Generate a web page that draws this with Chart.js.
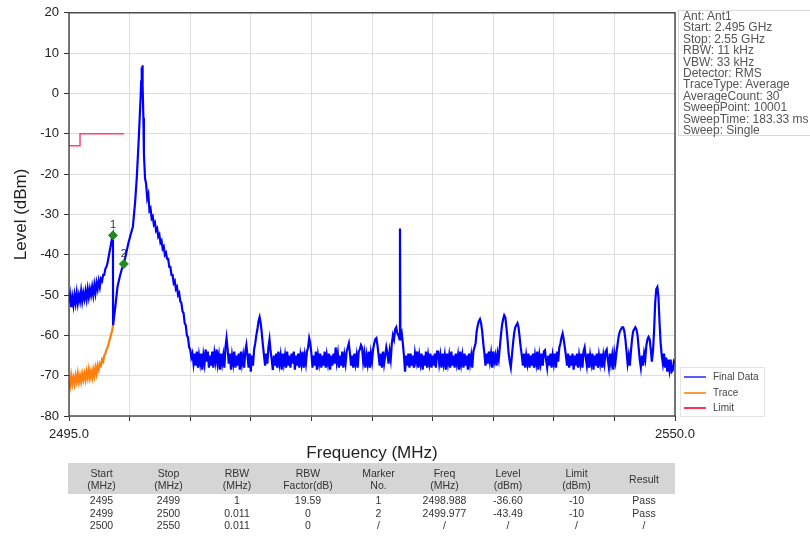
<!DOCTYPE html>
<html lang="en">
<head>
<meta charset="UTF-8">
<title>Spectrum 2495 - 2550 MHz</title>
<script src="https://cdn.jsdelivr.net/npm/chart.js"></script>
<style>
  body { margin: 0; background: #fff; font-family: "Liberation Sans", Arial, sans-serif; }
  #wrap { position: relative; width: 810px; height: 539px; overflow: hidden; }
  #chartBox { position: absolute; left: 0; top: 0; width: 810px; height: 470px; }
  #info {
    position: absolute; left: 678px; top: 10px; width: 140px; height: 126px;
    border: 1px solid #d9d9d9; font-size: 12px; line-height: 11.4px; color: #555;
    padding-left: 4px; white-space: nowrap; box-sizing: border-box;
  }
  #legend {
    position: absolute; left: 680px; top: 367px; width: 85px; height: 50px;
    border: 1px solid #e4e4e4; box-sizing: border-box; font-size: 10px; color: #444;
  }
  #legend div { position: absolute; left: 32px; height: 12px; line-height: 12px; }
  #legend span { position: absolute; left: -29px; top: 5px; width: 22px; height: 0; border-top: 2px solid; }
  #results {
    position: absolute; left: 68px; top: 463px; width: 607px;
    border-collapse: collapse; table-layout: fixed; font-size: 10.5px; color: #333;
  }
  #results th { background: #d5d5d5; font-weight: normal; height: 31px; line-height: 12px; padding: 0; }
  #results td { height: 12.5px; line-height: 12.5px; padding: 0; text-align: center; }
</style>
</head>
<body>
<div id="wrap">
  <div id="chartBox"><canvas id="spectrum"></canvas></div>
  <div id="info"></div>
  <div id="legend"></div>
  <table id="results"></table>
</div>

<script>
  // Final Data trace (MHz, dBm)
  const finalData = [
    // 1 MHz RBW segment
    [2495.0,-52],[2495.1,-50],[2495.2,-53],[2495.3,-50.5],[2495.4,-52.5],[2495.5,-50],[2495.6,-52],[2495.7,-49.5],
    [2495.8,-52],[2495.9,-50],[2496.0,-51.5],[2496.1,-49],[2496.2,-51.5],[2496.3,-49.5],[2496.4,-51],[2496.5,-49],
    [2496.6,-51],[2496.7,-48.5],[2496.8,-50.5],[2496.9,-48.5],[2497.0,-50],[2497.1,-48],[2497.2,-50],[2497.3,-47.5],
    [2497.4,-49.5],[2497.5,-47],[2497.6,-48.5],[2497.7,-46.5],[2497.8,-48],[2497.9,-46],[2498.0,-46.5],[2498.1,-45],
    [2498.2,-45],[2498.3,-43.5],[2498.4,-43],[2498.5,-42],[2498.6,-40.5],[2498.7,-39],[2498.8,-37.5],[2498.9,-36],
    [2498.99,-35.2],[2499.0,-57.5],
    // carrier
    [2499.2,-53],[2499.4,-48],[2499.6,-45.5],[2499.8,-43.5],[2499.98,-42.3],[2500.2,-39.5],[2500.4,-37],[2500.6,-35],
    [2500.8,-33],[2501.0,-27],[2501.15,-21],[2501.3,-13],[2501.4,-7],[2501.5,-1],[2501.55,3],[2501.6,6.5],
    [2501.63,5],[2501.66,7],[2501.7,2],[2501.75,-6],[2501.8,-15],[2501.9,-21],[2502.0,-22.5],[2502.1,-26],
    [2502.2,-25],[2502.3,-29],[2502.4,-28.5],[2502.5,-31],[2502.6,-30.5],[2502.7,-32.5],[2502.8,-32],[2502.9,-34],
    [2503.0,-33.5],[2503.1,-35.5],[2503.2,-35],[2503.3,-37],[2503.4,-36.5],[2503.5,-38.5],[2503.6,-38],[2503.7,-40],
    [2503.8,-39.5],[2503.9,-41],[2504.0,-41],[2504.1,-43],[2504.2,-43],[2504.3,-45],[2504.4,-45],[2504.5,-47],
    [2504.6,-46.5],[2504.7,-48.5],[2504.8,-48],[2504.9,-50],[2505.0,-49.5],[2505.1,-51.5],[2505.2,-52],[2505.3,-54],
    [2505.4,-54.5],[2505.5,-57],[2505.6,-57.5],[2505.7,-60],[2505.8,-60.5],[2505.9,-63],[2506.0,-63.5],[2506.1,-65.5],
    [2506.2,-64.5],[2506.3,-67],
    // noise floor with spurs
    [2506.4,-64.5],[2506.5,-67.5],[2506.6,-64],[2506.7,-68],[2506.8,-65],[2506.9,-67],
    [2507.0,-64.5],[2507.1,-68.5],[2507.2,-65],[2507.3,-67],[2507.4,-63.5],[2507.5,-66.5],[2507.6,-64],[2507.7,-68],[2507.8,-65],[2507.9,-67.5],
    [2508.0,-64],[2508.1,-68],[2508.2,-64.5],[2508.3,-66.5],[2508.4,-63.5],[2508.5,-67],[2508.6,-65],[2508.7,-68.5],[2508.8,-64.5],[2508.9,-67],
    [2509.0,-65],[2509.1,-68],[2509.2,-63],[2509.3,-60.7],[2509.4,-63.5],[2509.5,-67],[2509.6,-64.5],[2509.7,-68.5],[2509.8,-65],[2509.9,-67],
    [2510.0,-64],[2510.1,-68],[2510.2,-65],[2510.3,-67.5],[2510.4,-64.5],[2510.5,-68.5],[2510.6,-64],[2510.7,-67],[2510.8,-65],[2510.9,-68],
    [2511.0,-64],[2511.1,-62.4],[2511.2,-65],[2511.3,-68],[2511.4,-64.5],[2511.5,-69],[2511.6,-65],[2511.7,-67.5],[2511.8,-63.5],[2511.9,-62],
    [2512.0,-60],[2512.1,-58.5],[2512.2,-56.5],[2512.3,-55.5],[2512.4,-57],[2512.5,-59.5],[2512.6,-62.5],[2512.7,-65],[2512.8,-67.5],[2512.9,-64.5],
    [2513.0,-67],[2513.1,-63],[2513.2,-61],[2513.3,-64],[2513.4,-66],[2513.5,-68.6],[2513.6,-65],[2513.7,-67.5],[2513.8,-64.5],[2513.9,-68],
    [2514.0,-64],[2514.1,-67],[2514.2,-65],[2514.3,-68.5],[2514.4,-64.5],[2514.5,-67],[2514.6,-65],[2514.7,-68],[2514.8,-64],[2514.9,-67.5],
    [2515.0,-65],[2515.1,-68],[2515.2,-64.5],[2515.3,-67],[2515.4,-64],[2515.5,-68.5],[2515.6,-65],[2515.7,-67.5],[2515.8,-64.5],[2515.9,-68],
    [2516.0,-65],[2516.1,-67],[2516.2,-64],[2516.3,-68],[2516.4,-65],[2516.5,-67],[2516.6,-64],[2516.7,-63],[2516.8,-60.7],[2516.9,-62],
    [2517.0,-64.5],[2517.1,-68],[2517.2,-65],[2517.3,-67.5],[2517.4,-64],[2517.5,-68.5],[2517.6,-65],[2517.7,-67],[2517.8,-64.5],[2517.9,-68],
    [2518.0,-65],[2518.1,-67.5],[2518.2,-64],[2518.3,-68],[2518.4,-65],[2518.5,-67],[2518.6,-64.5],[2518.7,-68.5],[2518.8,-65],[2518.9,-67.5],
    [2519.0,-64.5],[2519.1,-67],[2519.2,-63],[2519.3,-66.5],[2519.4,-64.5],[2519.5,-68],[2519.6,-65],[2519.7,-67.5],[2519.8,-64],[2519.9,-68],
    [2520.0,-65],[2520.1,-67],[2520.2,-64],[2520.3,-63],[2520.4,-62],[2520.5,-64.5],[2520.6,-67.5],[2520.7,-65],[2520.8,-68],[2520.9,-64.5],
    [2521.0,-67],[2521.1,-65],[2521.2,-68],[2521.3,-64],[2521.4,-63.5],[2521.5,-62.4],[2521.6,-63],[2521.7,-66.5],[2521.8,-64.5],[2521.9,-68],
    [2522.0,-65],[2522.1,-67],[2522.2,-64],[2522.3,-68],[2522.4,-64.5],[2522.5,-66.5],[2522.6,-63.5],[2522.7,-62],[2522.8,-61],[2522.9,-60.7],
    [2523.0,-62.5],[2523.1,-65],[2523.2,-67.5],[2523.3,-64.5],[2523.4,-68],[2523.5,-64],[2523.6,-67],[2523.7,-65],[2523.8,-63],[2523.9,-64.5],
    [2524.0,-67],[2524.1,-64],[2524.2,-66],[2524.3,-62],[2524.4,-60],[2524.5,-61],[2524.6,-58.5],[2524.7,-58],[2524.8,-59.5],[2524.9,-60],
    [2525.0,-61],[2525.04,-33.5],[2525.08,-61],[2525.1,-60.5],[2525.2,-59.5],[2525.3,-62],[2525.4,-65],[2525.5,-69],[2525.6,-65],[2525.7,-67.5],[2525.8,-64.5],[2525.9,-68],
    [2526.0,-64.5],[2526.1,-67.5],[2526.2,-65],[2526.3,-68],[2526.4,-64.5],[2526.5,-66.5],[2526.6,-64],[2526.7,-68],[2526.8,-65],[2526.9,-67],
    [2527.0,-64.5],[2527.1,-68.5],[2527.2,-65],[2527.3,-67.5],[2527.4,-64],[2527.5,-68],[2527.6,-65],[2527.7,-67],[2527.8,-64.5],[2527.9,-68],
    [2528.0,-65],[2528.1,-67.5],[2528.2,-64.5],[2528.3,-68],[2528.4,-64],[2528.5,-64],[2528.6,-67],[2528.7,-65],[2528.8,-68],[2528.9,-64.5],
    [2529.0,-67],[2529.1,-65],[2529.2,-68.5],[2529.3,-64.5],[2529.4,-67],[2529.5,-65],[2529.6,-68],[2529.7,-64],[2529.8,-67.5],[2529.9,-65],
    [2530.0,-68],[2530.1,-64.5],[2530.2,-67],[2530.3,-65],[2530.4,-68.5],[2530.5,-64],[2530.6,-67],[2530.7,-65],[2530.8,-68],[2530.9,-64.5],
    [2531.0,-67.5],[2531.1,-65],[2531.2,-68.5],[2531.3,-64.5],[2531.4,-67],[2531.5,-65],[2531.6,-68],[2531.7,-64],[2531.8,-63],[2531.9,-62],
    [2532.0,-59],[2532.1,-57.5],[2532.2,-56.5],[2532.3,-56],[2532.4,-57],[2532.5,-59],[2532.6,-62],[2532.7,-64.5],[2532.8,-67.5],[2532.9,-64.5],
    [2533.0,-67],[2533.1,-64],[2533.2,-66.5],[2533.3,-64.5],[2533.4,-68],[2533.5,-64],[2533.6,-66.5],[2533.7,-65],[2533.8,-67.5],[2533.9,-64.5],
    [2534.0,-66],[2534.1,-63],[2534.2,-60],[2534.3,-57.5],[2534.4,-56],[2534.5,-55],[2534.6,-55.5],[2534.7,-58],[2534.8,-61],[2534.9,-64.5],
    [2535.0,-66.5],[2535.1,-68],[2535.2,-65],[2535.3,-62],[2535.4,-59.5],[2535.5,-58],[2535.6,-57.5],[2535.7,-57],[2535.8,-58],[2535.9,-60.5],
    [2536.0,-63],[2536.1,-65],[2536.2,-67.5],[2536.3,-64.5],[2536.4,-68],[2536.5,-65],[2536.6,-67],[2536.7,-64.5],[2536.8,-68],[2536.9,-65],
    [2537.0,-67.5],[2537.1,-64.5],[2537.2,-68],[2537.3,-65],[2537.4,-67],[2537.5,-64],[2537.6,-68.5],[2537.7,-65],[2537.8,-67],[2537.9,-64.5],
    [2538.0,-67.5],[2538.1,-64],[2538.2,-63.7],[2538.3,-66],[2538.4,-68],[2538.5,-65],[2538.6,-67.5],[2538.7,-64.5],[2538.8,-68],[2538.9,-65],
    [2539.0,-67],[2539.1,-64.5],[2539.2,-68],[2539.3,-64],[2539.4,-66.5],[2539.5,-63],[2539.6,-62],[2539.7,-60.5],[2539.8,-59.5],[2539.9,-61],
    [2540.0,-63],[2540.1,-65],[2540.2,-67.5],[2540.3,-64.5],[2540.4,-68],[2540.5,-65],[2540.6,-67.5],[2540.7,-64.5],[2540.8,-68.5],[2540.9,-65],
    [2541.0,-67.5],[2541.1,-64.5],[2541.2,-68],[2541.3,-65],[2541.4,-67],[2541.5,-64.5],[2541.6,-68],[2541.7,-64],[2541.8,-63],[2541.9,-65.5],
    [2542.0,-67.5],[2542.1,-64.5],[2542.2,-68],[2542.3,-65],[2542.4,-67],[2542.5,-64.5],[2542.6,-68.5],[2542.7,-65],[2542.8,-67.5],[2542.9,-64.5],
    [2543.0,-68],[2543.1,-65],[2543.2,-67],[2543.3,-64.5],[2543.4,-68],[2543.5,-65],[2543.6,-67],[2543.7,-64],[2543.8,-63.5],[2543.9,-66],
    [2544.0,-68],[2544.1,-64.5],[2544.2,-67],[2544.3,-65],[2544.4,-68.5],[2544.5,-64.5],[2544.6,-66.5],[2544.7,-64],[2544.8,-62],[2544.9,-60],
    [2545.0,-59],[2545.1,-58.5],[2545.2,-58],[2545.3,-58],[2545.4,-59],[2545.5,-61],[2545.6,-64],[2545.7,-67],[2545.8,-65],[2545.9,-67.5],
    [2546.0,-64],[2546.1,-61],[2546.2,-59],[2546.3,-58.5],[2546.4,-58],[2546.5,-58.5],[2546.6,-60],[2546.7,-63],[2546.8,-66],[2546.9,-68],
    [2547.0,-65],[2547.1,-67.5],[2547.2,-64.5],[2547.3,-66],[2547.4,-62.5],[2547.5,-61],[2547.6,-60.4],[2547.7,-61],[2547.8,-63.5],[2547.9,-66.5],
    [2548.0,-64],[2548.1,-59],[2548.2,-52],[2548.3,-48.5],[2548.4,-48],[2548.5,-50.5],[2548.6,-57],[2548.7,-62],[2548.8,-65],[2548.9,-67],
    [2549.0,-64.5],[2549.1,-68],[2549.2,-65.5],[2549.3,-69],[2549.4,-66],[2549.5,-68.5],[2549.6,-66],[2549.7,-69],[2549.8,-68.6],[2549.9,-66.5],
    [2550.0,-67]
  ];

  // raw Trace, only visible below the Final Data in the first 4 MHz
  const traceData = [
    [2495.0,-71],[2495.1,-72.5],[2495.2,-70],[2495.3,-72],[2495.4,-70.5],[2495.5,-72],[2495.6,-70],[2495.7,-71.5],
    [2495.8,-69.5],[2495.9,-71.5],[2496.0,-70],[2496.1,-71.5],[2496.2,-69.5],[2496.3,-71],[2496.4,-69.5],[2496.5,-71],
    [2496.6,-69],[2496.7,-70.5],[2496.8,-68.5],[2496.9,-70.5],[2497.0,-69],[2497.1,-70.5],[2497.2,-68.5],[2497.3,-70],
    [2497.4,-68],[2497.5,-69.5],[2497.6,-67.5],[2497.7,-68.5],[2497.8,-67],[2497.9,-67.5],[2498.0,-66],[2498.1,-66.5],
    [2498.2,-65],[2498.3,-64.5],[2498.4,-63.5],[2498.5,-63],[2498.6,-62],[2498.7,-61],[2498.8,-60],[2498.9,-59],
    [2499.0,-57.5]
  ];

  // limit line
  const limitData = [[2495.0,-13],[2496.0,-13],[2496.0,-10],[2500.0,-10]];

  // markers
  const markerNames = ['1', '2'];
  const markerFreq = [2498.988, 2499.977];
  const markerLevel = [-35.2, -42.3];

  const infoLines = [
    'Ant: Ant1', 'Start: 2.495 GHz', 'Stop: 2.55 GHz', 'RBW: 11 kHz', 'VBW: 33 kHz',
    'Detector: RMS', 'TraceType: Average', 'AverageCount: 30', 'SweepPoint: 10001',
    'SweepTime: 183.33 ms', 'Sweep: Single'
  ];

  const legendNames = ['Final Data', 'Trace', 'Limit'];
  const legendColors = ['#5a5aff', '#ff9a3c', '#ff3355'];

  const tableHead = ['Start<br>(MHz)', 'Stop<br>(MHz)', 'RBW<br>(MHz)', 'RBW<br>Factor(dB)', 'Marker<br>No.',
                     'Freq<br>(MHz)', 'Level<br>(dBm)', 'Limit<br>(dBm)', 'Result'];
  const tableRows = [
    ['2495', '2499', '1', '19.59', '1', '2498.988', '-36.60', '-10', 'Pass'],
    ['2499', '2500', '0.011', '0', '2', '2499.977', '-43.49', '-10', 'Pass'],
    ['2500', '2550', '0.011', '0', '/', '/', '/', '/', '/']
  ];
  const colWidths = [67, 67, 70, 72, 69, 63, 64, 73, 62];

  const FONT = '"Liberation Sans", Arial, sans-serif';

  // info box, legend and table around the plot
  document.getElementById('info').innerHTML = infoLines.join('<br>');

  const legend = document.getElementById('legend');
  legendNames.forEach((name, i) => {
    const row = document.createElement('div');
    row.style.top = (3 + i * 15.5) + 'px';
    row.innerHTML = '<span style="border-color:' + legendColors[i] + '"></span>' + name;
    legend.appendChild(row);
  });

  let html = '<colgroup>' + colWidths.map(w => '<col style="width:' + w + 'px">').join('') + '</colgroup>';
  html += '<tr>' + tableHead.map(h => '<th>' + h + '</th>').join('') + '</tr>';
  tableRows.forEach(r => { html += '<tr>' + r.map(c => '<td>' + c + '</td>').join('') + '</tr>'; });
  document.getElementById('results').innerHTML = html;

  const toXY = arr => arr.map(p => ({ x: p[0], y: p[1] }));

  // frame around the plot + marker numbers
  const framePlugin = {
    id: 'frame',
    afterDatasetsDraw(chart) {
      const { ctx, chartArea: a, scales } = chart;
      ctx.save();
      ctx.strokeStyle = '#333';
      ctx.lineWidth = 1.3;
      ctx.strokeRect(a.left, a.top, a.right - a.left, a.bottom - a.top);
      ctx.fillStyle = '#333';
      ctx.font = '11px ' + FONT;
      ctx.textAlign = 'center';
      ctx.textBaseline = 'bottom';
      markerNames.forEach((n, i) => {
        const px = scales.x.getPixelForValue(markerFreq[i]);
        const py = scales.y.getPixelForValue(markerLevel[i]);
        ctx.fillText(n, px, py - 5);
      });
      ctx.restore();
    }
  };

  new Chart(document.getElementById('spectrum'), {
    type: 'line',
    data: {
      datasets: [
        {
          label: 'Markers',
          data: markerFreq.map((f, i) => ({ x: f, y: markerLevel[i] })),
          showLine: false,
          pointStyle: 'rectRot',
          pointRadius: 4.5,
          backgroundColor: '#1f8a1f',
          borderColor: '#1f8a1f'
        },
        {
          label: 'Final Data',
          data: toXY(finalData),
          borderColor: '#0000ff',
          borderWidth: 2.2,
          pointRadius: 0,
          tension: 0
        },
        {
          label: 'Trace',
          data: toXY(traceData),
          borderColor: '#ff7f0e',
          borderWidth: 2.2,
          pointRadius: 0,
          tension: 0
        },
        {
          label: 'Limit',
          data: toXY(limitData),
          borderColor: '#ff4466',
          borderWidth: 1.5,
          pointRadius: 0,
          tension: 0
        }
      ]
    },
    options: {
      responsive: true,
      maintainAspectRatio: false,
      animation: false,
      events: [],
      layout: { padding: { top: 12, right: 135, left: 0, bottom: 0 } },
      plugins: { legend: { display: false }, tooltip: { enabled: false } },
      scales: {
        x: {
          type: 'linear',
          min: 2495,
          max: 2550,
          afterFit(s) { s.height = 54; },
          border: { display: false },
          grid: { color: '#dedede', tickLength: 5, tickColor: '#333' },
          ticks: {
            stepSize: 5.5,
            autoSkip: false,
            maxRotation: 0,
            padding: 6,
            color: '#222',
            font: { family: FONT, size: 13 },
            callback: (v, i, t) => (i === 0 || i === t.length - 1) ? Number(v).toFixed(1) : ''
          },
          title: {
            display: true, text: 'Frequency (MHz)', color: '#222',
            font: { family: FONT, size: 17 }, padding: { top: 0, bottom: 6 }
          }
        },
        y: {
          min: -80,
          max: 20,
          afterFit(s) { s.width = 69; },
          border: { display: false },
          grid: { color: '#dedede', tickLength: 5, tickColor: '#333' },
          ticks: { stepSize: 10, padding: 5, color: '#222', font: { family: FONT, size: 13 } },
          title: {
            display: true, text: 'Level (dBm)', color: '#222',
            font: { family: FONT, size: 17 }, padding: { top: 11, bottom: 0 }
          }
        }
      }
    },
    plugins: [framePlugin]
  });
</script>
</body>
</html>
